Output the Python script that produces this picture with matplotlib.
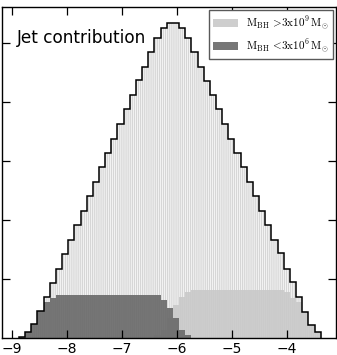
import numpy as np
import matplotlib.pyplot as plt

plt.rcParams['mathtext.fontset'] = 'cm'
plt.rcParams['hatch.linewidth'] = 1.0

# log10 of jet contribution, 49 equal bins
bin_lo, bin_hi = -8.8725, -3.379
n_bins = 49

total = [0.02, 0.10, 0.25, 0.46, 0.70, 0.94, 1.18, 1.43, 1.67, 1.91,
         2.16, 2.40, 2.65, 2.89, 3.13, 3.37, 3.62, 3.87, 4.11, 4.36,
         4.59, 4.84, 5.07, 5.24, 5.33, 5.33, 5.24, 5.07, 4.84, 4.59,
         4.35, 4.11, 3.87, 3.62, 3.37, 3.14, 2.89, 2.65, 2.40, 2.16,
         1.91, 1.67, 1.44, 1.18, 0.95, 0.70, 0.45, 0.22, 0.10]

# M_BH > 3e9 Msun
massive = [0, 0, 0, 0, 0, 0, 0, 0, 0, 0,
           0, 0, 0, 0, 0, 0, 0, 0, 0, 0,
           0, 0, 0.05, 0.14, 0.34, 0.56, 0.70, 0.78, 0.82, 0.82,
           0.82, 0.82, 0.82, 0.82, 0.82, 0.82, 0.82, 0.82, 0.82, 0.82,
           0.82, 0.82, 0.82, 0.79, 0.69, 0.62, 0.44, 0.22, 0.10]

# M_BH < 3e6 Msun
small = [0.02, 0.10, 0.25, 0.46, 0.61, 0.69, 0.74, 0.74, 0.74, 0.74,
         0.74, 0.74, 0.74, 0.74, 0.74, 0.74, 0.74, 0.74, 0.74, 0.74,
         0.74, 0.74, 0.74, 0.65, 0.51, 0.34, 0.14, 0.05, 0, 0,
         0, 0, 0, 0, 0, 0, 0, 0, 0, 0,
         0, 0, 0, 0, 0, 0, 0, 0, 0]

edges = np.linspace(bin_lo, bin_hi, n_bins + 1)

fig = plt.figure(figsize=(3.37, 3.55), dpi=100)
ax = fig.add_axes([0.0045, 0.047, 0.9925, 0.933])

ax.stairs(total, edges, fill=True, facecolor='white', edgecolor='#d6d6d6',
          hatch='||||||||', linewidth=0)
ax.stairs(massive, edges, fill=True, facecolor='#c9c9c9', edgecolor='#c9c9c9',
          linewidth=0, alpha=0.9,
          label=r'$\mathrm{M_{BH}}\,>\!3\mathrm{x}10^{9}\,\mathrm{M}_{\odot}$')
ax.stairs(small, edges, fill=True, facecolor='#6b6b6b', edgecolor='#6b6b6b',
          linewidth=0, alpha=0.92,
          label=r'$\mathrm{M_{BH}}\,<\!3\mathrm{x}10^{6}\,\mathrm{M}_{\odot}$')
ax.stairs(total, edges, color='black', linewidth=1.1)

ax.text(0.046, 0.908, 'Jet contribution', transform=ax.transAxes,
        fontsize=12.2, va='center')

ax.set_xlim(-9.19, -3.10)
ax.set_ylim(0, 5.6)
ax.set_xticks(range(-9, -3))
ax.set_yticks([1, 2, 3, 4, 5])
ax.tick_params(direction='in', top=True, right=True, length=5.5, width=0.9,
               labelsize=10, pad=3, labelleft=False)
for s in ax.spines.values():
    s.set_linewidth(1.0)

ax.legend(loc='upper right', fontsize=8, fancybox=False, edgecolor='0.35',
          framealpha=1, borderaxespad=0.3, handlelength=2.2,
          handletextpad=0.7)

fig.savefig('out.png', dpi=100)
